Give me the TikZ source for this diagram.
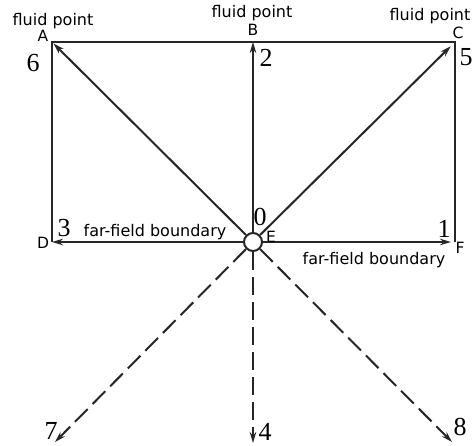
\documentclass[tikz,border=0pt]{standalone}
\usepackage{fontspec}
\setmainfont{Liberation Serif}
\setsansfont{DejaVu Sans}
\usetikzlibrary{arrows.meta,positioning}

\begin{document}
\begin{tikzpicture}[
    x=1pt, y=-1pt,
    edge/.style={
      line width=2pt,
      color=black!85
    },
    ray/.style={
      -{Stealth[length=11pt,width=6.5pt]},
      line width=2pt,
      color=black!85
    },
    farray/.style={
      ray,
      dash pattern=on 18pt off 7pt
    },
    hub/.style={
      circle,
      draw=black!85,
      line width=2pt,
      fill=white,
      minimum size=18pt,
      inner sep=0pt
    },
    tag/.style={
      font=\sffamily\fontsize{16}{17}\selectfont,
      inner sep=0pt
    },
    corner/.style={
      font=\sffamily\fontsize{15.5}{16}\selectfont,
      inner sep=0pt
    },
    num/.style={
      font=\fontsize{26}{26}\selectfont,
      inner sep=0pt
    }
  ]
    \useasboundingbox (0,0) rectangle (473,446);

    % ---- Corners of the domain ----
    \coordinate (A) at (52, 42);
    \coordinate (B) at (253, 42);
    \coordinate (C) at (455, 42);
    \coordinate (D) at (52, 242);
    \coordinate (F) at (455, 242);
    \node[hub] (E) at (253, 242) {};

    % ---- Far-field ends ----
    \coordinate (far7) at (55, 442);
    \coordinate (far4) at (253, 443);
    \coordinate (far8) at (452, 442);

    % ---- Domain border ----
    \draw[edge] (D) -- (A) -- (C) -- (F);

    % ---- Rays from the centre ----
    \draw[ray] (E) -- (D);
    \draw[ray, shorten >=4pt] (E) -- (F);
    \draw[ray] (E) -- (B);
    \draw[ray, shorten >=2pt] (E) -- (A);
    \draw[ray, shorten >=6pt] (E) -- (C);
    \draw[farray] (E) -- (far7);
    \draw[farray] (E) -- (far4);
    \draw[farray] (E) -- (far8);

    % ---- Point letters ----
    \node[corner] (lA) at (43, 36)  {A};
    \node[corner] (lB) at (253, 30) {B};
    \node[corner] (lC) at (458, 33) {C};
    \node[corner] (lD) at (43, 243) {D};
    \node[corner] (lE) at (271, 237) {E};
    \node[corner] (lF) at (460, 248) {F};

    % ---- Ray numbers ----
    \node[num] (n0) at (260, 217) {0};
    \node[num] (n1) at (444, 229) {1};
    \node[num] (n2) at (266, 58)  {2};
    \node[num] (n3) at (64, 228)  {3};
    \node[num] (n4) at (265, 432) {4};
    \node[num] (n5) at (466, 57)  {5};
    \node[num] (n6) at (33, 63)   {6};
    \node[num] (n7) at (51, 431)  {7};
    \node[num] (n8) at (460, 427) {8};

    % ---- Captions ----
    \node[tag] (fpA) at (53, 21)   {fluid point};
    \node[tag] (fpB) at (252, 13)  {fluid point};
    \node[tag] (fpC) at (430, 16)  {fluid point};
    \node[tag] (ffl) at (155, 232) {far-field boundary};
    \node[tag] (ffr) at (374, 260) {far-field boundary};
  \end{tikzpicture}
\end{document}
